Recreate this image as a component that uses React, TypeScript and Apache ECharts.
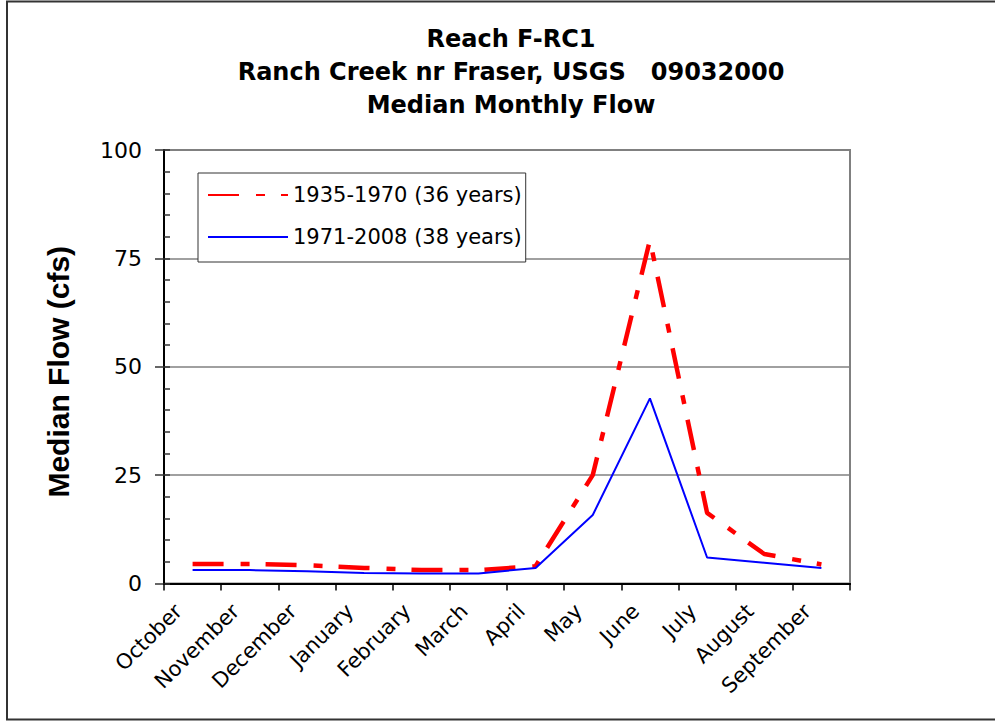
import React, { useEffect, useRef } from "react";
import * as echarts from "echarts";

const months = ["October", "November", "December", "January", "February", "March", "April", "May", "June", "July", "August", "September"];
const seriesNames = ["1935-1970 (36 years)", "1971-2008 (38 years)"];
const flow1935 = [4.5, 4.5, 4.2, 3.6, 3.1, 3.1, 4.0, 25.0, 79.2, 16.3, 6.8, 4.4];
const flow1971 = [3.1, 3.1, 2.8, 2.4, 2.3, 2.3, 3.6, 15.8, 42.7, 6.0, 4.8, 3.6];
const yTicks = { min: 0, max: 100, interval: 25 };
const titleLines = ["Reach F-RC1", "Ranch Creek nr Fraser, USGS   09032000", "Median Monthly Flow"];
const yName = "Median Flow (cfs)";

const FONT = "DejaVu Sans";

export default function App() {
  const ref = useRef<HTMLDivElement>(null);
  useEffect(() => {
    document.body.style.margin = "0";
    const chart = echarts.init(ref.current!, undefined, { renderer: "svg" });
    chart.setOption({
      animation: false,
      backgroundColor: "#fff",
      title: {
        text: titleLines.join("\n"),
        left: 506,
        top: 17,
        textAlign: "center",
        textStyle: { fontFamily: FONT, fontWeight: "bold", fontSize: 24, lineHeight: 33, color: "#000" },
      },
      graphic: [
        {
          type: "rect",
          shape: { x: 7, y: 1.5, width: 1100, height: 718 },
          style: { fill: "none", stroke: "#333", lineWidth: 2 },
          silent: true,
        },
      ],
      grid: {
        left: 164,
        right: 145,
        top: 150,
        bottom: 137.5,
        show: true,
        borderColor: "#808080",
        borderWidth: 2,
        backgroundColor: "transparent",
      },
      legend: {
        orient: "vertical",
        left: 198,
        top: 173,
        itemWidth: 80,
        itemHeight: 14,
        itemGap: 18,
        padding: [10, 4, 13, 9],
        borderColor: "#333",
        borderWidth: 1,
        backgroundColor: "#fff",
        itemStyle: { color: "transparent", borderWidth: 0, opacity: 0 },
        textStyle: { fontFamily: FONT, fontSize: 21, lineHeight: 24, color: "#000" },
        data: seriesNames,
      },
      xAxis: [
        {
          type: "category",
          data: months,
          boundaryGap: true,
          axisLine: { lineStyle: { color: "#000", width: 2 } },
          axisTick: { show: true, inside: false, length: 7, lineStyle: { color: "#000", width: 1.5 } },
          axisLabel: {
            interval: 0,
            rotate: 45,
            fontFamily: FONT,
            fontSize: 21,
            color: "#000",
            margin: 10,
            padding: [0, 20, 0, 0],
          },
          splitLine: { show: false },
        },
        {
          type: "category",
          data: months,
          position: "top",
          axisLine: { lineStyle: { color: "#000", width: 2 } },
          axisTick: { show: false },
          axisLabel: { show: false },
          splitLine: { show: false },
        },
      ],
      yAxis: [
        {
          type: "value",
          min: yTicks.min,
          max: yTicks.max,
          interval: yTicks.interval,
          name: yName,
          nameLocation: "middle",
          nameGap: 91,
          nameTextStyle: {
            fontFamily: "Liberation Sans",
            fontWeight: "bold",
            fontSize: 30,
            color: "#000",
            padding: [0, 10, 0, 0],
          },
          axisLine: { show: true, lineStyle: { color: "#000", width: 2 } },
          axisTick: { show: true, inside: false, length: 9, lineStyle: { color: "#333", width: 1.5 } },
          axisLabel: { fontFamily: FONT, fontSize: 22, color: "#000", margin: 22 },
          splitLine: { show: true, lineStyle: { color: "#808080", width: 1.5 } },
        },
        {
          type: "value",
          position: "left",
          min: yTicks.min,
          max: yTicks.max,
          interval: 5,
          axisLine: { show: false },
          axisTick: { show: true, inside: true, length: 6, lineStyle: { color: "#333", width: 1.5 } },
          axisLabel: { show: false },
          splitLine: { show: false },
        },
      ],
      series: [
        {
          name: seriesNames[0],
          type: "line",
          data: flow1935,
          symbol: "none",
          lineStyle: { color: "#ff0000", width: 4.5, type: [31, 17, 9, 16] },
          itemStyle: { color: "#ff0000" },
          z: 3,
        },
        {
          name: seriesNames[1],
          type: "line",
          data: flow1971,
          symbol: "none",
          lineStyle: { color: "#0000ff", width: 2, type: "solid" },
          itemStyle: { color: "#0000ff" },
          z: 4,
        },
      ],
    });
    return () => chart.dispose();
  }, []);
  return <div ref={ref} style={{ width: 995, height: 721 }} />;
}
